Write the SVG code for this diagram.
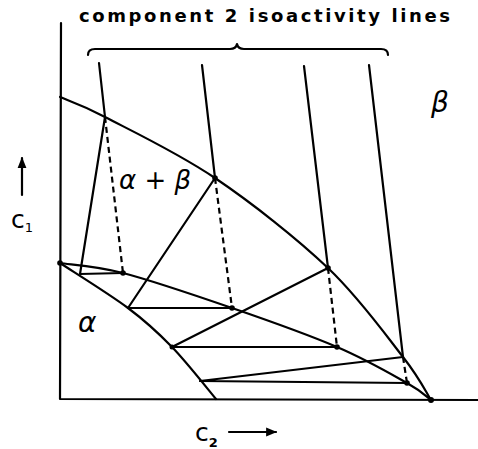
<svg xmlns="http://www.w3.org/2000/svg" width="478" height="449" viewBox="0 0 478 449">
<defs>
<style>
.ln{fill:none;stroke:#000;stroke-width:2.2;stroke-linecap:round;stroke-linejoin:round}
.ds{fill:none;stroke:#000;stroke-width:2.2;stroke-dasharray:6 4}
.dot{fill:#000}
.t{font-family:"DejaVu Sans","Liberation Sans",sans-serif;fill:#000}
.g{font-family:"DejaVu Sans","Liberation Sans",sans-serif;font-style:italic;fill:#000}
</style>
<marker id="ah" viewBox="0 0 10 10" refX="9" refY="5" markerWidth="5" markerHeight="5" orient="auto" markerUnits="strokeWidth">
<path d="M0,1 L10,5 L0,9 Z" fill="#000"/>
</marker>
</defs>
<rect width="478" height="449" fill="#fff"/>

<g id="title"><text class="t" x="79" y="22" font-size="18" font-weight="bold" textLength="371" lengthAdjust="spacing">component 2 isoactivity lines</text></g>
<g id="brace"><path class="ln" d="M88,55 Q88,49 95,49 L230,49 Q236,49 237,44 Q238,49 244,49 L381,49 Q388,49 388,55"/></g>

<g id="axes">
<path class="ln" d="M61,23 L60,399 L478,400"/>
</g>

<g id="connectors">
<path id="beta-boundary" class="ln" d="M60,97 C67.5,100.3 79.2,103.5 105,117 C130.8,130.5 177.8,152.8 215,178 C252.2,203.2 296.7,238.2 328,268 C359.3,297.8 385.8,335 403,357 C420.2,379 426.3,392.8 431,400"/>
<path id="alpha-boundary" class="ln" d="M60,263 C71.3,270.5 109.3,294 128,308 C146.7,322 157.3,331.8 172,347 C186.7,362.2 208.7,390.3 216,399"/>
<path id="middle-curve" class="ln" d="M60,263 C70.5,264.7 94.3,265.5 123,273 C151.7,280.5 196.3,295.7 232,308 C267.7,320.3 307.8,334.5 337,347 C366.2,359.5 391.3,374.2 407,383 C422.7,391.8 427,397.2 431,400"/>
<path class="ln" d="M99,63 L105,117 L80,274 L123,273"/>
<path class="ln" d="M202,65 L215,178 L128,308 L232,308"/>
<path class="ln" d="M304,66 L328,268 L172,347 L337,347"/>
<path class="ln" d="M369,65 L403,357 L200,381 L407,383"/>
<path class="ds" d="M105,117 L123,273"/>
<path class="ds" d="M215,178 L232,308"/>
<path class="ds" d="M328,268 L337,347"/>
<path class="ds" d="M403,357 L407,383"/>
<path class="ln" d="M22,195 L22,158" marker-end="url(#ah)"/>
<path class="ln" d="M229,432 L276,432" marker-end="url(#ah)"/>
</g>

<g id="dots">
<circle class="dot" cx="60" cy="263" r="2.8"/>
<circle class="dot" cx="123" cy="273" r="2.8"/>
<circle class="dot" cx="215" cy="178" r="2.8"/>
<circle class="dot" cx="232" cy="308" r="2.8"/>
<circle class="dot" cx="328" cy="268" r="2.8"/>
<circle class="dot" cx="337" cy="347" r="2.8"/>
<circle class="dot" cx="172" cy="347" r="2.5"/>
<circle class="dot" cx="407" cy="383" r="2.8"/>
<circle class="dot" cx="431" cy="400" r="3"/>
</g>

<g id="labels">
<text class="g" x="431" y="112" font-size="28">β</text>
<text class="g" x="119" y="189" font-size="26">α + β</text>
<text class="g" x="78" y="332" font-size="28">α</text>
<text class="t" x="11" y="228" font-size="25">c<tspan font-size="13" dy="4">1</tspan></text>
<text class="t" x="195" y="441" font-size="25">c<tspan font-size="13" dy="6" font-weight="bold">2</tspan></text>
</g>
</svg>
